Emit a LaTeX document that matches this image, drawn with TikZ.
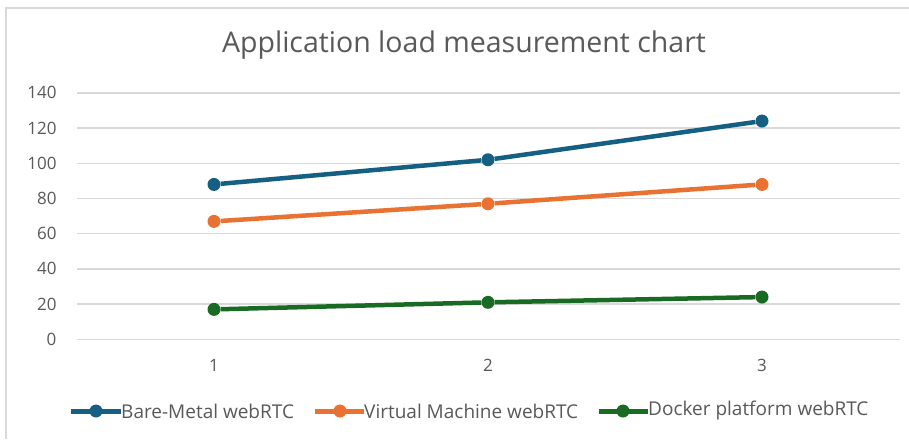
\documentclass[tikz,border=0pt]{standalone}
\usepackage{fontspec}
\setmainfont{Open Sans}
\definecolor{bmblue}{HTML}{156082}
\definecolor{vmorange}{HTML}{E97132}
\definecolor{dkgreen}{HTML}{196B24}
\definecolor{gridgray}{HTML}{D9D9D9}
\definecolor{labelgray}{HTML}{595959}
\tikzset{
  dot/.style={circle,fill=#1,inner sep=0pt,minimum size=13pt},
  legdot/.style={circle,fill=#1,inner sep=0pt,minimum size=13pt},
  series/.style={line width=4.5pt,#1},
  gridline/.style={gridgray,line width=1.5pt},
  ticklabel/.style={text=labelgray,font=\fontsize{17}{17}\selectfont},
  legtext/.style={text=labelgray,font=\fontsize{19}{19}\selectfont,anchor=west,inner sep=0pt},
}
\begin{document}
\begin{tikzpicture}[x=1pt,y=-1pt]
\useasboundingbox[fill=white] (0,0) rectangle (909,439);
\draw[gridgray,line width=1.5pt] (6,439) -- (6,8) -- (909,8);

\node[text=labelgray,font=\fontsize{28.5}{29}\selectfont] (title) at (464,45) {Application load measurement chart};

\begin{scope}[shift={(0,339.3)},y=1.76pt]
% horizontal grid and value axis
\draw[gridline] (77,0) -- (900,0);
\draw[gridline] (77,20) -- (900,20);
\draw[gridline] (77,40) -- (900,40);
\draw[gridline] (77,60) -- (900,60);
\draw[gridline] (77,80) -- (900,80);
\draw[gridline] (77,100) -- (900,100);
\draw[gridline] (77,120) -- (900,120);
\draw[gridline] (77,140) -- (900,140);

\node[ticklabel,anchor=east] at (60,0) {0};
\node[ticklabel,anchor=east] at (60,20) {20};
\node[ticklabel,anchor=east] at (60,40) {40};
\node[ticklabel,anchor=east] at (60,60) {60};
\node[ticklabel,anchor=east] at (60,80) {80};
\node[ticklabel,anchor=east] at (60,100) {100};
\node[ticklabel,anchor=east] at (60,120) {120};
\node[ticklabel,anchor=east] at (60,140) {140};

\node[ticklabel] at (214,-15) {1};
\node[ticklabel] at (488,-15) {2};
\node[ticklabel] at (762,-15) {3};

% bare metal
\node[dot=bmblue] (bm1) at (214,88) {};
\node[dot=bmblue] (bm2) at (488,102) {};
\node[dot=bmblue] (bm3) at (762,124) {};
\draw[series=bmblue] (bm1) -- (bm2) -- (bm3);

% virtual machine
\node[dot=vmorange] (vm1) at (214,67) {};
\node[dot=vmorange] (vm2) at (488,77) {};
\node[dot=vmorange] (vm3) at (762,88) {};
\draw[series=vmorange] (vm1) -- (vm2) -- (vm3);

% docker
\node[dot=dkgreen] (dk1) at (214,17) {};
\node[dot=dkgreen] (dk2) at (488,21) {};
\node[dot=dkgreen] (dk3) at (762,24) {};
\draw[series=dkgreen] (dk1) -- (dk2) -- (dk3);
\end{scope}

% legend
\coordinate (bmA) at (71,411);
\coordinate (bmB) at (121,411);
\draw[series=bmblue,line width=5pt] (bmA) -- (bmB);
\node[legdot=bmblue] (bmkey) at (96,411) {};
\node[legtext] (bmtext) at (bmB) {Bare-Metal webRTC};

\coordinate (vmA) at (315,411);
\coordinate (vmB) at (364,411);
\draw[series=vmorange,line width=5pt] (vmA) -- (vmB);
\node[legdot=vmorange] (vmkey) at (340,411) {};
\node[legtext] (vmtext) at (vmB) {Virtual Machine webRTC};

\coordinate (dkA) at (599,411);
\coordinate (dkB) at (648,411);
\draw[series=dkgreen,line width=5pt] (dkA) -- (dkB);
\node[legdot=dkgreen] (dkkey) at (623,411) {};
\node[legtext] (dktext) at (dkB) {Docker platform webRTC};
\end{tikzpicture}
\end{document}
